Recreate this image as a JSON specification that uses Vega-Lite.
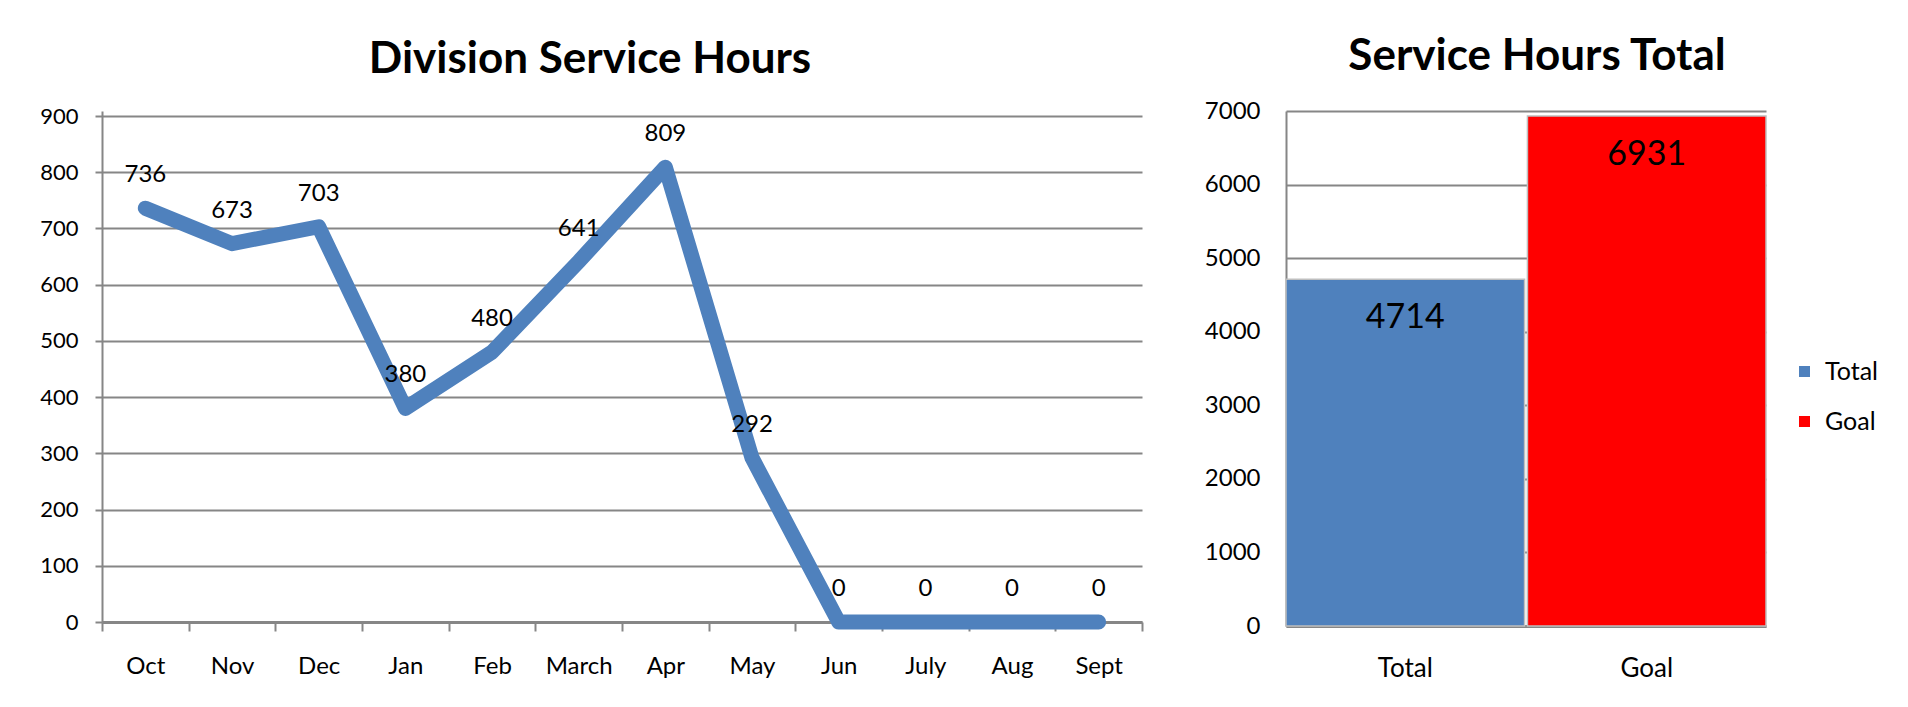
{
  "$schema": "https://vega.github.io/schema/vega-lite/v6.json",
  "background": "white",
  "padding": {"left": 39, "top": 35, "right": 0, "bottom": 0},
  "spacing": 61,
  "resolve": {"legend": {"color": "independent"}},
  "config": {
    "font": "Lato",
    "view": {"stroke": null},
    "axis": {"labelFont": "Lato", "labelColor": "#000000", "domainColor": "#868686", "gridColor": "#868686", "tickColor": "#868686", "title": null},
    "title": {"font": "Lato", "fontSize": 44, "fontWeight": "bold", "color": "#000000"}
  },
  "hconcat": [
    {
      "width": 1040,
      "height": 511,
      "title": {"text": "Division Service Hours", "dx": -32, "offset": 23},
      "data": {"values": [
        {"month": "Oct", "hours": 736},
        {"month": "Nov", "hours": 673},
        {"month": "Dec", "hours": 703},
        {"month": "Jan", "hours": 380},
        {"month": "Feb", "hours": 480},
        {"month": "March", "hours": 641},
        {"month": "Apr", "hours": 809},
        {"month": "May", "hours": 292},
        {"month": "Jun", "hours": 0},
        {"month": "July", "hours": 0},
        {"month": "Aug", "hours": 0},
        {"month": "Sept", "hours": 0}
      ]},
      "encoding": {
        "x": {
          "field": "month", "type": "nominal", "sort": null,
          "scale": {"type": "band", "paddingInner": 0, "paddingOuter": 0},
          "axis": {"labelAngle": 0, "labelFontSize": 24, "labelBaseline": "middle", "labelPadding": 35, "tickBand": "extent", "ticks": true, "tickSize": 9, "tickWidth": 2, "domainWidth": 3, "grid": false}
        },
        "y": {
          "field": "hours", "type": "quantitative",
          "scale": {"domain": [0, 908.9], "nice": false},
          "axis": {"values": [0, 100, 200, 300, 400, 500, 600, 700, 800, 900], "labelFontSize": 22, "labelPadding": 17, "tickSize": 7, "tickWidth": 2, "domainWidth": 2, "grid": true, "gridWidth": 2, "minExtent": 60, "maxExtent": 60}
        }
      },
      "layer": [
        {"mark": {"type": "line", "color": "#4F81BD", "strokeWidth": 15, "strokeCap": "round", "strokeJoin": "round"}},
        {"mark": {"type": "text", "dy": -33, "fontSize": 24, "font": "Lato", "color": "#000000", "baseline": "middle"},
         "encoding": {"text": {"field": "hours", "type": "quantitative"}}}
      ]
    },
    {
      "width": 480,
      "height": 515,
      "title": {"text": "Service Hours Total", "dx": 11, "offset": 20},
      "data": {"values": [
        {"cat": "Total", "value": 4714},
        {"cat": "Goal", "value": 6931}
      ]},
      "encoding": {
        "x": {
          "field": "cat", "type": "nominal", "sort": null,
          "scale": {"type": "band", "paddingInner": 0.012, "paddingOuter": 0},
          "axis": {"labelAngle": 0, "labelFontSize": 26, "labelBaseline": "middle", "labelPadding": 42, "ticks": false, "domainWidth": 3, "grid": false}
        },
        "y": {
          "field": "value", "type": "quantitative",
          "scale": {"domain": [0, 7000], "nice": false},
          "axis": {"values": [0, 1000, 2000, 3000, 4000, 5000, 6000, 7000], "format": "d", "labelFontSize": 24, "labelPadding": 26, "ticks": false, "domainWidth": 2, "grid": true, "gridWidth": 2, "minExtent": 70, "maxExtent": 70}
        }
      },
      "layer": [
        {"mark": {"type": "bar", "stroke": "#bfbfbf", "strokeWidth": 1.5},
         "encoding": {
           "color": {"field": "cat", "type": "nominal", "sort": null,
             "scale": {"domain": ["Total", "Goal"], "range": ["#4F81BD", "#FF0000"]},
             "legend": {"title": null, "orient": "none", "legendX": 506, "legendY": 248, "padding": 0, "symbolType": "square", "symbolSize": 121, "symbolStrokeWidth": 0, "labelFontSize": 25, "labelFont": "Lato", "labelColor": "#000000", "rowPadding": 24, "labelOffset": 8}
           }
         }},
        {"mark": {"type": "text", "dy": 39, "fontSize": 34, "font": "Lato", "color": "#000000", "baseline": "middle"},
         "encoding": {"text": {"field": "value", "type": "quantitative"}}}
      ]
    }
  ]
}
